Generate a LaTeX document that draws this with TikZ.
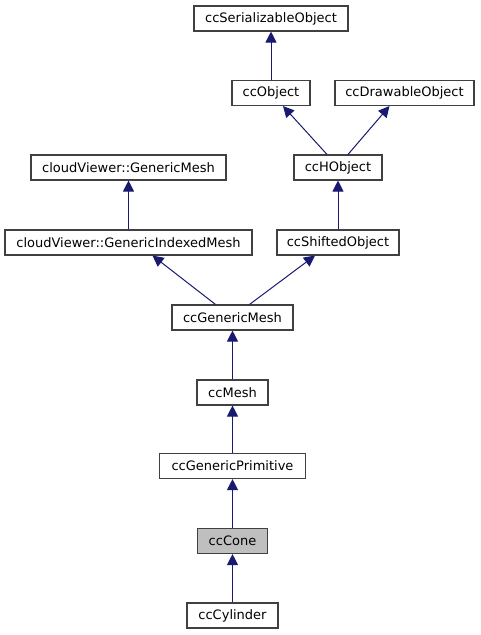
\documentclass[tikz,border=0pt]{standalone}
\usepackage{fontspec}
\setmainfont{DejaVu Sans}
\usetikzlibrary{arrows.meta}
\definecolor{edgeblue}{HTML}{191970}
\definecolor{boxgray}{HTML}{404040}
\begin{document}
\begin{tikzpicture}[x=1pt,y=-1pt,
    classe/.style={draw=boxgray,line width=1.1pt,fill=white,minimum height=25pt,inner sep=0pt,
        font=\fontsize{13}{15}\selectfont},
    eredita/.style={edgeblue,line width=1pt,-{Triangle[length=11pt,width=11pt]}}]

    \useasboundingbox (0,0) rectangle (480,635);

    % Classi
    \node[classe,minimum width=154pt] (ser) at (271,18.5) {ccSerializableObject};
    \node[classe,minimum width=78pt] (obj) at (271,93) {ccObject};
    \node[classe,minimum width=139pt] (drw) at (404.5,93) {ccDrawableObject};
    \node[classe,minimum width=195pt] (gm) at (128.5,167.5) {cloudViewer::GenericMesh};
    \node[classe,minimum width=88pt] (hobj) at (338,167.5) {ccHObject};
    \node[classe,minimum width=247pt] (gim) at (128.5,242.5) {cloudViewer::GenericIndexedMesh};
    \node[classe,minimum width=122pt] (shift) at (338,242.5) {ccShiftedObject};
    \node[classe,minimum width=121pt] (genmesh) at (232.5,317.5) {ccGenericMesh};
    \node[classe,minimum width=71pt] (mesh) at (232.5,392.5) {ccMesh};
    \node[classe,minimum width=146pt] (prim) at (232.5,466) {ccGenericPrimitive};
    \node[classe,minimum width=70pt,fill=black!25] (cone) at (232.5,541) {ccCone};
    \node[classe,minimum width=91pt] (cyl) at (232.5,615.5) {ccCylinder};

    % Ereditarieta
    \draw[eredita] (obj) -- (ser);
    \draw[eredita] ([xshift=-11pt]hobj.north) -- ([xshift=12pt]obj.south);
    \draw[eredita] ([xshift=10pt]hobj.north) -- ([xshift=-15pt]drw.south);
    \draw[eredita] (gim) -- (gm);
    \draw[eredita] (shift) -- (hobj);
    \draw[eredita] ([xshift=-17pt]genmesh.north) -- ([xshift=24pt]gim.south);
    \draw[eredita] ([xshift=17pt]genmesh.north) -- ([xshift=-23pt]shift.south);
    \draw[eredita] (mesh) -- (genmesh);
    \draw[eredita] (prim) -- (mesh);
    \draw[eredita] (cone) -- (prim);
    \draw[eredita] (cyl) -- (cone);

\end{tikzpicture}
\end{document}
